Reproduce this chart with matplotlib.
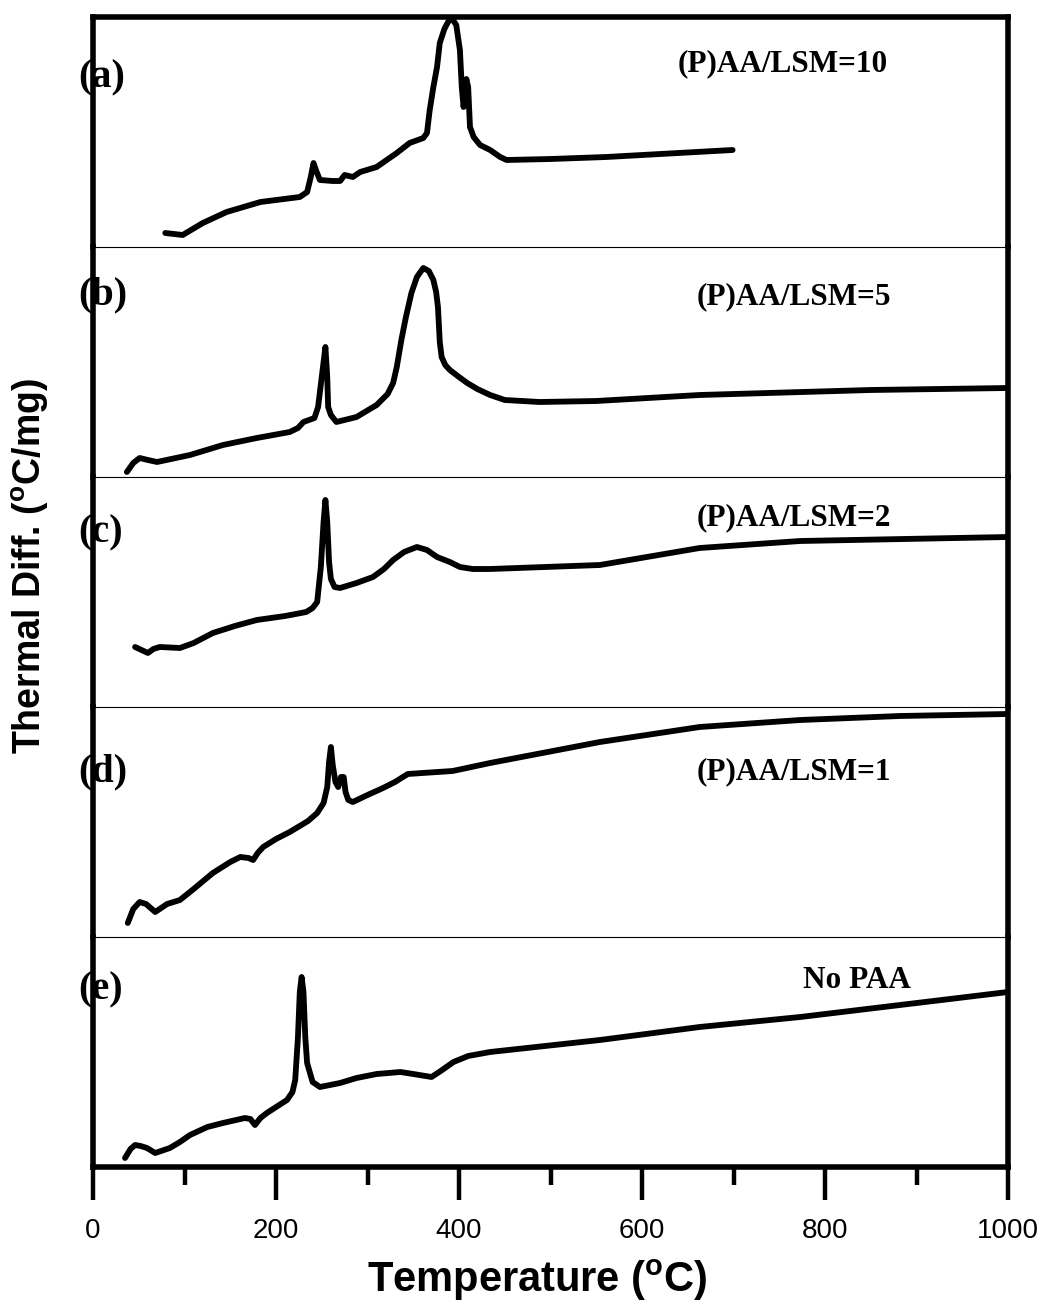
"""DTA curves of (P)AA/LSM precursors, five stacked panels."""
import matplotlib
matplotlib.use("Agg")
import matplotlib.pyplot as plt
from matplotlib.ticker import MultipleLocator

plt.rcParams["mathtext.fontset"] = "custom"
plt.rcParams["mathtext.rm"] = "Liberation Sans"
plt.rcParams["mathtext.bf"] = "Liberation Sans:bold"

# --- data (temperature in degC, thermal difference in arbitrary panel units) ---
temp_a = [79, 98, 120, 146, 183, 226, 234, 238, 241, 244, 248, 262, 270, 275, 284,
          292, 310, 332, 346, 361, 365, 368, 372, 376, 379, 384, 388, 392, 397, 401,
          403, 405, 408, 410, 412, 416, 423, 434, 445, 452, 500, 561, 620, 699]
dta_a = [14, 12, 24, 35, 45, 50, 55, 70, 84, 76, 67, 66, 66, 72, 70,
         75, 80, 94, 104, 109, 114, 137, 160, 180, 204, 218, 225, 229, 222, 197,
         160, 140, 168, 160, 120, 110, 102, 97, 90, 87, 88, 90, 93, 97]

temp_b = [37, 44, 51, 60, 70, 106, 142, 179, 215, 224, 230, 236, 242, 246, 250,
          254, 256, 257, 260, 266, 288, 310, 322, 328, 332, 337, 342, 348, 354, 361,
          367, 372, 375, 377, 379, 381, 385, 390, 400, 409, 420, 434, 450, 488, 550,
          663, 850, 1000]
dta_b = [5, 14, 19, 17, 15, 22, 32, 39, 45, 49, 55, 57, 59, 70, 100,
         130, 100, 70, 62, 55, 60, 72, 83, 94, 110, 137, 160, 184, 200, 209,
         206, 197, 185, 170, 135, 120, 112, 107, 100, 94, 88, 82, 77, 75, 76,
         82, 87, 89]

temp_c = [46, 53, 60, 66, 73, 95, 110, 131, 155, 179, 210, 233, 240, 245, 249,
          252, 254, 256, 258, 260, 264, 270, 288, 306, 318, 328, 340, 354, 365, 376,
          390, 401, 415, 434, 554, 663, 773, 1000]
dta_c = [60, 57, 54, 58, 60, 59, 64, 74, 81, 87, 91, 95, 99, 105, 140,
         185, 207, 185, 145, 128, 120, 119, 124, 130, 138, 147, 155, 160, 157, 150,
         145, 140, 138, 138, 142, 159, 166, 170]

temp_d = [38, 44, 51, 58, 68, 81, 95, 110, 131, 150, 161, 170, 175, 180, 186,
          200, 215, 235, 245, 252, 256, 258, 260, 262, 265, 268, 271, 274, 276, 279,
          284, 300, 317, 330, 344, 360, 393, 434, 554, 663, 773, 882, 1000]
dta_d = [14, 28, 35, 33, 25, 33, 37, 48, 64, 75, 80, 79, 77, 84, 90,
         98, 105, 116, 124, 134, 150, 175, 190, 172, 155, 150, 160, 160, 145, 137,
         135, 142, 149, 155, 163, 164, 166, 174, 195, 210, 217, 221, 223]

temp_e = [35, 41, 46, 52, 59, 68, 84, 95, 106, 125, 142, 166, 172, 177, 183,
          190, 212, 218, 221, 224, 226, 228, 230, 232, 234, 240, 248, 270, 288, 310,
          336, 350, 370, 380, 394, 410, 434, 554, 663, 773, 882, 1000]
dta_e = [9, 18, 22, 21, 19, 14, 19, 25, 32, 40, 44, 49, 48, 42, 49,
         54, 67, 75, 87, 130, 175, 190, 175, 130, 104, 85, 80, 84, 89, 93,
         95, 93, 90, 96, 105, 111, 115, 127, 140, 150, 162, 175]

panel_tags = ["(a)", "(b)", "(c)", "(d)", "(e)"]
sample_names = ["(P)AA/LSM=10", "(P)AA/LSM=5", "(P)AA/LSM=2", "(P)AA/LSM=1", "No PAA"]
series = [(temp_a, dta_a), (temp_b, dta_b), (temp_c, dta_c),
          (temp_d, dta_d), (temp_e, dta_e)]

# --- layout in pixels of the 1042x1302 canvas ---
W, H = 1042, 1302
LEFT, RIGHT, TOP, BOTTOM = 93, 1008, 17, 1167
PANEL_H = (BOTTOM - TOP) / 5
tag_y = [0.735, 0.79, 0.757, 0.717, 0.77]
name_x = [678, 697, 697, 697, 803]
name_y = [0.796, 0.783, 0.822, 0.717, 0.813]

fig = plt.figure(figsize=(W / 100, H / 100), dpi=100)

for i, (temps, vals) in enumerate(series):
    y0 = TOP + i * PANEL_H
    ax = fig.add_axes([LEFT / W, 1 - (y0 + PANEL_H) / H, (RIGHT - LEFT) / W, PANEL_H / H])
    ax.plot(temps, vals, color="black", lw=4.2, solid_capstyle="round",
            solid_joinstyle="round")
    ax.set_xlim(0, 1000)
    ax.set_ylim(0, 230)
    ax.set_yticks([])

    for side in ("left", "right"):
        ax.spines[side].set_linewidth(4)
    ax.spines["top"].set_linewidth(4 if i == 0 else 0.8)
    ax.spines["bottom"].set_linewidth(4 if i == 4 else 0.8)
    if i < 4:
        ax.spines["bottom"].set_visible(False)
        ax.set_xticks([])
    else:
        ax.xaxis.set_major_locator(MultipleLocator(200))
        ax.xaxis.set_minor_locator(MultipleLocator(100))
        ax.tick_params(axis="x", which="major", direction="out", length=24,
                       width=3.2, pad=13, labelsize=20)
        ax.tick_params(axis="x", which="minor", direction="out", length=13,
                       width=3.2)
        for lab in ax.get_xticklabels():
            lab.set_family("Liberation Sans")

    ax.text((78 - LEFT) / (RIGHT - LEFT), tag_y[i], panel_tags[i],
            transform=ax.transAxes, ha="left", va="center", fontsize=29,
            fontweight="bold", family="Liberation Serif", clip_on=False)
    ax.text((name_x[i] - LEFT) / (RIGHT - LEFT), name_y[i], sample_names[i],
            transform=ax.transAxes, ha="left", va="center", fontsize=22.5,
            fontweight="bold", family="Liberation Serif")

fig.text(30 / W, 1 - 566 / H, r"Thermal Diff. ($^{\mathbf{o}}$C/mg)", rotation=90,
         ha="center", va="center", fontsize=27, fontweight="bold",
         family="Liberation Sans")
fig.text(537 / W, 1 - 1292 / H, r"Temperature ($^{\mathbf{o}}$C)", ha="center",
         va="baseline", fontsize=30, fontweight="bold", family="Liberation Sans")

fig.savefig("out.png", dpi=100)
